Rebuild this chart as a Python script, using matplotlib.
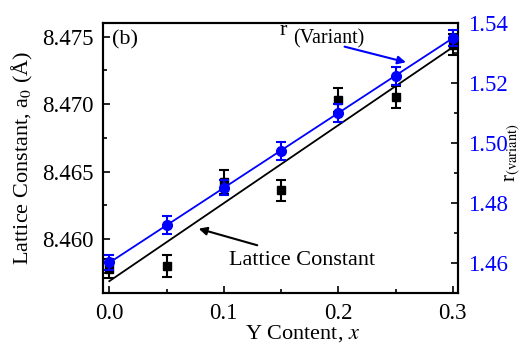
import numpy as np
import matplotlib
matplotlib.use('Agg')
import matplotlib.pyplot as plt
from matplotlib.ticker import MultipleLocator

# data
y_content = [0.0, 0.05, 0.10, 0.15, 0.20, 0.25, 0.30]
lattice = [8.4578, 8.4580, 8.4642, 8.4636, 8.4703, 8.4705, 8.4744]
lattice_err = [0.0007, 0.0008, 0.0009, 0.0008, 0.0009, 0.0008, 0.0008]
r_variant = [1.4602, 1.4725, 1.4850, 1.4975, 1.5100, 1.5225, 1.5350]
r_err = [0.0025, 0.0030, 0.0025, 0.0030, 0.0030, 0.0030, 0.0028]

plt.rcParams['font.family'] = ['Liberation Serif', 'DejaVu Serif']
plt.rcParams['mathtext.fontset'] = 'stix'
plt.rcParams['font.size'] = 16

fig = plt.figure(figsize=(5.26, 3.46), dpi=100)
ax = fig.add_axes([0.1958, 0.1532, 0.6749, 0.7803])
ax2 = ax.twinx()

x = np.array(y_content)

# lattice constant (left axis)
ax.errorbar(x, lattice, yerr=lattice_err, fmt='s', color='black', ms=6,
            capsize=3.5, elinewidth=1.5, capthick=1.5, zorder=3)
k, b = np.polyfit(x, lattice, 1)
xx = np.array([0.0, 0.3])
ax.plot(xx, k * xx + b, color='black', lw=1.3)

# r (variant) (right axis)
ax2.errorbar(x, r_variant, yerr=r_err, fmt='o', color='blue', ms=7,
             capsize=3.5, elinewidth=1.5, capthick=1.5, zorder=3)
k2, b2 = np.polyfit(x, r_variant, 1)
ax2.plot(xx, k2 * xx + b2, color='blue', lw=1.3)

ax.set_xlim(-0.0055, 0.3045)
ax.set_ylim(8.4560, 8.4760)
ax2.set_ylim(1.45, 1.54)

ax.xaxis.set_major_locator(MultipleLocator(0.1))
ax.xaxis.set_minor_locator(MultipleLocator(0.05))
ax.yaxis.set_major_locator(MultipleLocator(0.005))
ax.yaxis.set_minor_locator(MultipleLocator(0.0025))
ax2.yaxis.set_major_locator(MultipleLocator(0.02))
ax2.yaxis.set_minor_locator(MultipleLocator(0.01))
ax.xaxis.set_major_formatter(plt.FormatStrFormatter('%.1f'))
ax.yaxis.set_major_formatter(plt.FormatStrFormatter('%.3f'))
ax2.yaxis.set_major_formatter(plt.FormatStrFormatter('%.2f'))

ax.tick_params(which='major', direction='in', length=5, width=1.2, labelsize=16.5, pad=7)
ax.tick_params(which='minor', direction='in', length=3, width=1.2)
ax.tick_params(axis='y', which='both', right=False)
ax2.tick_params(which='major', direction='in', length=5, width=1.2, labelsize=16.5,
                labelcolor='blue', pad=7)
ax2.tick_params(which='minor', direction='in', length=3, width=1.2)
for sp in ax.spines.values():
    sp.set_linewidth(1.5)
for sp in ax2.spines.values():
    sp.set_linewidth(1.5)

ax.set_xlabel('Y Content, $x$', fontsize=16)
ax.xaxis.set_label_coords(0.563, -0.112)
ax.set_ylabel('Lattice Constant, a$_0$ (Å)', fontsize=16, labelpad=5)
ax2.set_ylabel(r'r$_{\rm (variant)}$', fontsize=15)
ax2.yaxis.set_label_coords(1.13, 0.52)

ax.text(0.025, 0.937, '(b)', transform=ax.transAxes, va='center', fontsize=16)
ax.text(0.496, 0.956, 'r', transform=ax.transAxes, va='baseline', fontsize=16)
ax.text(0.535, 0.925, '(Variant)', transform=ax.transAxes, va='baseline', fontsize=14.5)
ax.annotate('', xy=(0.861, 0.852), xytext=(0.673, 0.915), xycoords='axes fraction',
            arrowprops=dict(arrowstyle='-|>', color='blue', lw=1.5, mutation_scale=12))
ax.text(0.355, 0.104, 'Lattice Constant', transform=ax.transAxes, va='baseline', fontsize=16)
ax.annotate('', xy=(0.262, 0.241), xytext=(0.442, 0.174), xycoords='axes fraction',
            arrowprops=dict(arrowstyle='-|>', color='black', lw=1.5, mutation_scale=12))

fig.savefig('out.png', dpi=100)
